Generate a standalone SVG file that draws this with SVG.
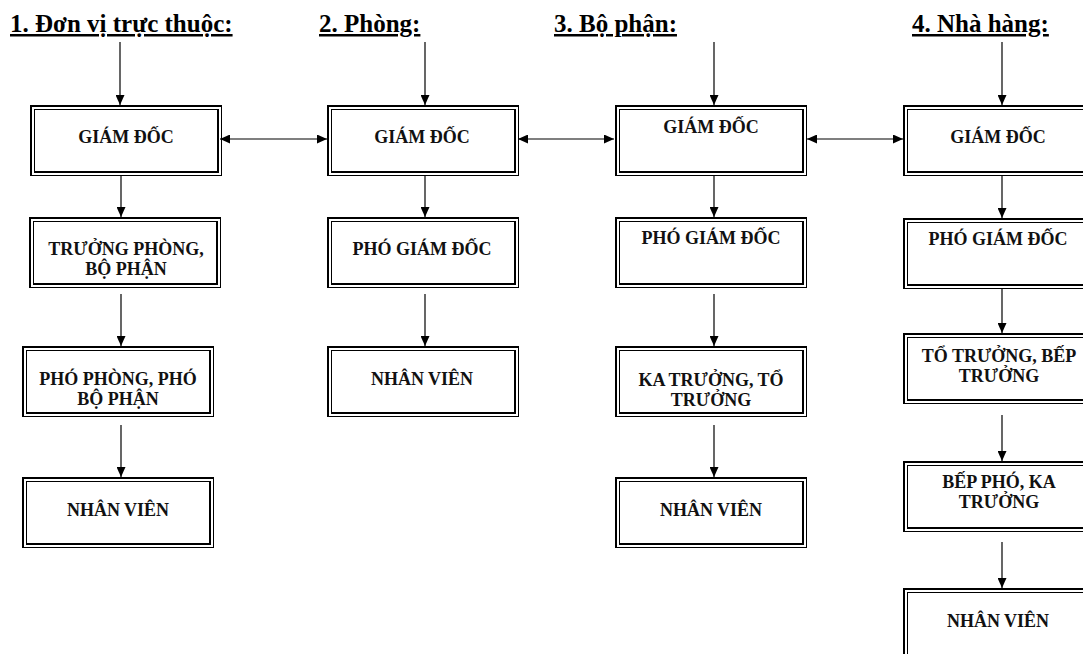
<svg xmlns="http://www.w3.org/2000/svg" xmlns:xlink="http://www.w3.org/1999/xlink" width="1083" height="654" viewBox="0 0 1083 654">
<style>
  .title { font-family: "Liberation Serif", "Times New Roman", serif; font-weight: bold; font-size: 25px; fill: #000; text-decoration: underline; }
  .lbl { font-family: "Liberation Serif", "Times New Roman", serif; font-weight: bold; font-size: 18px; fill: #111; text-anchor: middle; }
  .thin { fill: none; stroke: #000; stroke-width: 1; }
  .thick { fill: none; stroke: #000; stroke-width: 2; }
  .conn line { stroke: #000; stroke-width: 1.2; }
</style>
<defs>
  <marker id="ah" viewBox="0 0 10 9" refX="10" refY="4.5" markerWidth="10" markerHeight="9" markerUnits="userSpaceOnUse" orient="auto-start-reverse">
    <path d="M0,0 L10,4.5 L0,9 z" fill="#000"/>
  </marker>
  <g id="frame">
    <rect x="0.5" y="0.5" width="191" height="70" fill="#fff" class="thin"/>
    <path d="M1,71 V1 H192" class="thick"/>
    <rect x="4.5" y="4.5" width="183" height="62" class="thin"/>
    <path d="M4,67 H188 V4" class="thick"/>
  </g>
</defs>
<rect width="1083" height="654" fill="#fff"/>

<g id="titles">
  <text class="title" x="10" y="32">1. Đơn vị trực thuộc:</text>
  <text class="title" x="319" y="32">2. Phòng:</text>
  <text class="title" x="554" y="32">3. Bộ phận:</text>
  <text class="title" x="912" y="32">4. Nhà hàng:</text>
</g>

<g class="conn" id="connectors">
  <line x1="120" y1="42" x2="120" y2="105" marker-end="url(#ah)"/>
  <line x1="121" y1="176" x2="121" y2="217" marker-end="url(#ah)"/>
  <line x1="121" y1="294" x2="121" y2="346" marker-end="url(#ah)"/>
  <line x1="121" y1="425" x2="121" y2="477" marker-end="url(#ah)"/>

  <line x1="425" y1="42" x2="425" y2="105" marker-end="url(#ah)"/>
  <line x1="425" y1="176" x2="425" y2="217" marker-end="url(#ah)"/>
  <line x1="425" y1="294" x2="425" y2="346" marker-end="url(#ah)"/>

  <line x1="714" y1="42" x2="714" y2="105" marker-end="url(#ah)"/>
  <line x1="714" y1="176" x2="714" y2="217" marker-end="url(#ah)"/>
  <line x1="714" y1="294" x2="714" y2="346" marker-end="url(#ah)"/>
  <line x1="714" y1="425" x2="714" y2="477" marker-end="url(#ah)"/>

  <line x1="1002" y1="42" x2="1002" y2="105" marker-end="url(#ah)"/>
  <line x1="1002" y1="176" x2="1002" y2="218" marker-end="url(#ah)"/>
  <line x1="1002" y1="289" x2="1002" y2="333" marker-end="url(#ah)"/>
  <line x1="1002" y1="415" x2="1002" y2="461" marker-end="url(#ah)"/>
  <line x1="1002" y1="542" x2="1002" y2="588" marker-end="url(#ah)"/>

  <line x1="220" y1="139" x2="327" y2="139" marker-start="url(#ah)" marker-end="url(#ah)"/>
  <line x1="518" y1="139" x2="614" y2="139" marker-start="url(#ah)" marker-end="url(#ah)"/>
  <line x1="807" y1="139" x2="903" y2="139" marker-start="url(#ah)" marker-end="url(#ah)"/>
</g>

<g id="c1-giamdoc"><use xlink:href="#frame" x="30" y="105"/><text class="lbl" x="126" y="143">GIÁM ĐỐC</text></g>
<g id="c1-truongphong"><use xlink:href="#frame" x="29" y="217"/><text class="lbl" x="126" y="255">TRƯỞNG PHÒNG,</text><text class="lbl" x="126" y="275">BỘ PHẬN</text></g>
<g id="c1-phophong"><use xlink:href="#frame" x="22" y="346"/><text class="lbl" x="118" y="385">PHÓ PHÒNG, PHÓ</text><text class="lbl" x="118" y="405">BỘ PHẬN</text></g>
<g id="c1-nhanvien"><use xlink:href="#frame" x="22" y="477"/><text class="lbl" x="118" y="516">NHÂN VIÊN</text></g>

<g id="c2-giamdoc"><use xlink:href="#frame" x="327" y="105"/><text class="lbl" x="422" y="143">GIÁM ĐỐC</text></g>
<g id="c2-phogiamdoc"><use xlink:href="#frame" x="327" y="217"/><text class="lbl" x="422" y="255">PHÓ GIÁM ĐỐC</text></g>
<g id="c2-nhanvien"><use xlink:href="#frame" x="327" y="346"/><text class="lbl" x="422" y="385">NHÂN VIÊN</text></g>

<g id="c3-giamdoc"><use xlink:href="#frame" x="615" y="105"/><text class="lbl" x="711" y="133">GIÁM ĐỐC</text></g>
<g id="c3-phogiamdoc"><use xlink:href="#frame" x="615" y="217"/><text class="lbl" x="711" y="244">PHÓ GIÁM ĐỐC</text></g>
<g id="c3-katruong"><use xlink:href="#frame" x="615" y="346"/><text class="lbl" x="711" y="386">KA TRƯỞNG, TỔ</text><text class="lbl" x="711" y="406">TRƯỞNG</text></g>
<g id="c3-nhanvien"><use xlink:href="#frame" x="615" y="477"/><text class="lbl" x="711" y="516">NHÂN VIÊN</text></g>

<g id="c4-giamdoc"><use xlink:href="#frame" x="903" y="105"/><text class="lbl" x="998" y="143">GIÁM ĐỐC</text></g>
<g id="c4-phogiamdoc"><use xlink:href="#frame" x="903" y="218"/><text class="lbl" x="998" y="245">PHÓ GIÁM ĐỐC</text></g>
<g id="c4-totruong"><use xlink:href="#frame" x="903" y="333"/><text class="lbl" x="999" y="362">TỔ TRƯỞNG, BẾP</text><text class="lbl" x="999" y="382">TRƯỞNG</text></g>
<g id="c4-beppho"><use xlink:href="#frame" x="903" y="461"/><text class="lbl" x="999" y="488">BẾP PHÓ, KA</text><text class="lbl" x="999" y="508">TRƯỞNG</text></g>
<g id="c4-nhanvien"><use xlink:href="#frame" x="903" y="588"/><text class="lbl" x="998" y="627">NHÂN VIÊN</text></g>
</svg>
